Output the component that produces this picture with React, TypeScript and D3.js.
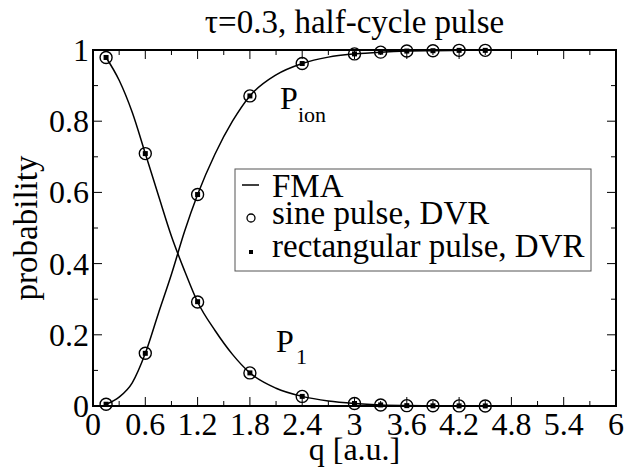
import * as d3 from 'd3';
import React from 'react';

// x positions of the DVR runs
const qPoints = [0.15, 0.6, 1.2, 1.8, 2.4, 3.0, 3.3, 3.6, 3.9, 4.2, 4.5];
const p1Sine = [0.979, 0.709, 0.292, 0.093, 0.027, 0.007, 0.003, 0.001, 0.0005, 0.0003, 0.0002];
const pIonSine = [0.005, 0.148, 0.594, 0.871, 0.962, 0.989, 0.994, 0.997, 0.998, 0.999, 0.999];
const p1Rect = [0.979, 0.709, 0.293, 0.093, 0.027, 0.007, 0.003, 0.001, 0.0005, 0.0003, 0.0002];
const pIonRect = [0.005, 0.148, 0.594, 0.871, 0.962, 0.989, 0.994, 0.997, 0.998, 0.999, 0.999];

// FMA curve
const qLine = [0.15, 0.3, 0.45, 0.6, 0.75, 0.9, 1.05, 1.2, 1.4, 1.6, 1.8, 2.1, 2.4, 2.7, 3.0, 3.3, 3.6, 3.9, 4.2, 4.5];
const p1Line = [0.979, 0.915, 0.825, 0.709, 0.592, 0.477, 0.38, 0.292, 0.212, 0.145, 0.093, 0.05, 0.027, 0.014, 0.007, 0.003, 0.0015, 0.0007, 0.0003, 0.0001];
const pIonLine = [0.005, 0.025, 0.065, 0.148, 0.26, 0.37, 0.49, 0.594, 0.708, 0.8, 0.871, 0.93, 0.962, 0.98, 0.989, 0.994, 0.997, 0.998, 0.999, 0.9995];

const xTicks = [0, 0.6, 1.2, 1.8, 2.4, 3, 3.6, 4.2, 4.8, 5.4, 6];
const xMinor = [0.3, 0.9, 1.5, 2.1, 2.7, 3.3, 3.9, 4.5, 5.1, 5.7];
const yTicks = [0, 0.2, 0.4, 0.6, 0.8, 1];
const yMinor = [0.1, 0.3, 0.5, 0.7, 0.9];

const legendItems = ['FMA', 'sine pulse, DVR', 'rectangular pulse, DVR'];

const FONT = 'Liberation Serif';

export default function App() {
    const W = 641, H = 470;
    const margin = {top: 50, right: 25, bottom: 64, left: 93};
    const x = d3.scaleLinear().domain([0, 6]).range([margin.left, W - margin.right]);
    const y = d3.scaleLinear().domain([0, 1]).range([H - margin.bottom, margin.top]);
    const x0 = x(0), x1 = x(6), y0 = y(0), y1 = y(1);

    const line = d3.line<[number, number]>()
        .x(d => x(d[0]))
        .y(d => y(d[1]))
        .curve(d3.curveMonotoneX);

    const p1Path = line(qLine.map((q, i) => [q, p1Line[i]]));
    const ionPath = line(qLine.map((q, i) => [q, pIonLine[i]]));

    const fmt = (v: number) => String(+v.toFixed(1));
    const majorLen = 9, minorLen = 5;

    return (
        <svg width={W} height={H} style={{position: 'absolute', left: 0, top: 0}} fontFamily={FONT}>
            <style>{`text, tspan { font-family: 'Liberation Serif', 'Times New Roman'; }`}</style>
            <rect width={W} height={H} fill="#fff"/>
            <text x={(x0 + x1) / 2} y={33} fontSize={33} textAnchor="middle" fontFamily={FONT}>τ=0.3, half-cycle pulse</text>

            {/* curves */}
            <path d={p1Path || ''} fill="none" stroke="#000" strokeWidth={1.5}/>
            <path d={ionPath || ''} fill="none" stroke="#000" strokeWidth={1.5}/>

            {/* sine pulse DVR */}
            {qPoints.map((q, i) => (
                <g key={'s' + i}>
                    <circle cx={x(q)} cy={y(p1Sine[i])} r={6} fill="none" stroke="#000" strokeWidth={1.4}/>
                    <circle cx={x(q)} cy={y(pIonSine[i])} r={6} fill="none" stroke="#000" strokeWidth={1.4}/>
                </g>
            ))}
            {/* rectangular pulse DVR */}
            {qPoints.map((q, i) => (
                <g key={'r' + i}>
                    <rect x={x(q) - 2.5} y={y(p1Rect[i]) - 2.5} width={5} height={5} fill="#000"/>
                    <rect x={x(q) - 2.5} y={y(pIonRect[i]) - 2.5} width={5} height={5} fill="#000"/>
                </g>
            ))}

            {/* ticks */}
            {xTicks.map(t => (
                <g key={'xt' + t}>
                    <line x1={x(t)} x2={x(t)} y1={y0} y2={y0 - majorLen} stroke="#000" strokeWidth={1}/>
                    <line x1={x(t)} x2={x(t)} y1={y1} y2={y1 + majorLen} stroke="#000" strokeWidth={1}/>
                    <text x={x(t)} y={435} fontSize={32} textAnchor="middle" fontFamily={FONT}>{fmt(t)}</text>
                </g>
            ))}
            {xMinor.map(t => (
                <g key={'xm' + t}>
                    <line x1={x(t)} x2={x(t)} y1={y0} y2={y0 - minorLen} stroke="#000" strokeWidth={1}/>
                    <line x1={x(t)} x2={x(t)} y1={y1} y2={y1 + minorLen} stroke="#000" strokeWidth={1}/>
                </g>
            ))}
            {yTicks.map(t => (
                <g key={'yt' + t}>
                    <line x1={x0} x2={x0 + majorLen} y1={y(t)} y2={y(t)} stroke="#000" strokeWidth={1}/>
                    <line x1={x1} x2={x1 - majorLen} y1={y(t)} y2={y(t)} stroke="#000" strokeWidth={1}/>
                    <text x={89} y={y(t) + 11} fontSize={32} textAnchor="end" fontFamily={FONT}>{fmt(t)}</text>
                </g>
            ))}
            {yMinor.map(t => (
                <g key={'ym' + t}>
                    <line x1={x0} x2={x0 + minorLen} y1={y(t)} y2={y(t)} stroke="#000" strokeWidth={1}/>
                    <line x1={x1} x2={x1 - minorLen} y1={y(t)} y2={y(t)} stroke="#000" strokeWidth={1}/>
                </g>
            ))}

            {/* frame */}
            <rect x={x0} y={y1} width={x1 - x0} height={y0 - y1} fill="none" stroke="#000" strokeWidth={2}/>

            {/* labels */}
            <text x={(x0 + x1) / 2} y={460} fontSize={32} textAnchor="middle" fontFamily={FONT}>q [a.u.]</text>
            <text transform={`translate(37,${(y0 + y1) / 2}) rotate(-90)`} fontSize={33} textAnchor="middle" fontFamily={FONT}>probability</text>

            <text x={280} y={109} fontSize={32} fontFamily={FONT}>P<tspan x={298} y={122} fontSize={22}>ion</tspan></text>
            <text x={276} y={352} fontSize={32} fontFamily={FONT}>P<tspan x={296} y={364} fontSize={22}>1</tspan></text>

            {/* legend */}
            <g>
                <rect x={235} y={169} width={356} height={102} fill="#fff" stroke="#555" strokeWidth={1}/>
                <line x1={242} x2={259} y1={185} y2={185} stroke="#000" strokeWidth={1.5}/>
                <circle cx={251} cy={218} r={4} fill="none" stroke="#000" strokeWidth={1.3}/>
                <rect x={249} y={250} width={4} height={4} fill="#000"/>
                {legendItems.map((s, i) => (
                    <text key={s} x={272} y={[197, 224, 257][i]} fontSize={33} fontFamily={FONT}>{s}</text>
                ))}
            </g>
        </svg>
    );
}
